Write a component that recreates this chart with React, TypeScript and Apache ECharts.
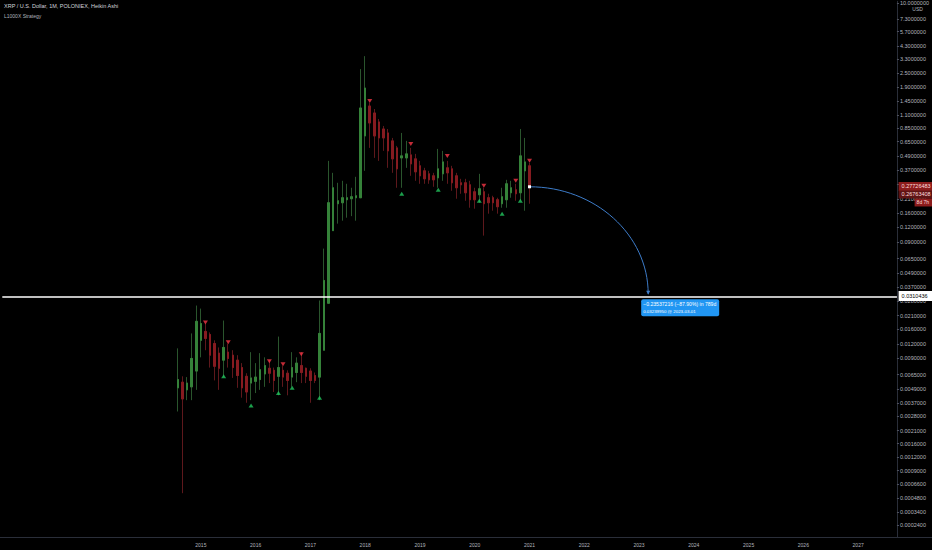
import React, { useEffect, useRef } from "react";
import * as echarts from "echarts";

// ---------- data ----------
const AXIS_FIRST_MONTH = "2011-06";
const AXIS_MONTH_COUNT = 196;
const FIRST_CANDLE_MONTH = "2014-08";

const opens = [
  0.0050, 0.0056, 0.0048, 0.0051, 0.0070,
  0.0129, 0.0154, 0.0145, 0.0121, 0.0100, 0.0087, 0.0102, 0.0096, 0.0087, 0.0075, 0.0063, 0.0055,
  0.0057, 0.0059, 0.0066, 0.0074, 0.0071, 0.0063, 0.0071, 0.0067, 0.0062, 0.0068, 0.0078, 0.0074,
  0.0070, 0.0064, 0.0062, 0.0106, 0.0269, 0.1127, 0.1916, 0.1954, 0.2073, 0.2114, 0.2156, 0.2156,
  0.729, 1.314, 1.145, 0.960, 0.836, 0.773, 0.661, 0.576, 0.473, 0.473, 0.5017, 0.4638,
  0.4043, 0.3664, 0.3454, 0.3321, 0.3193, 0.3454, 0.3887, 0.381, 0.3321, 0.2894, 0.2894, 0.2783,
  0.2425, 0.2287, 0.2425, 0.2156, 0.2156, 0.2073, 0.1916, 0.2073, 0.2378, 0.2523, 0.2378, 0.3664,
  0.4043,
];
const closes = [
  0.0059, 0.0040, 0.0055, 0.0090, 0.0188,
  0.0180, 0.0134, 0.0096, 0.0077, 0.0074, 0.0112, 0.0090, 0.0075, 0.0064, 0.0050, 0.0046, 0.0061,
  0.0062, 0.0072, 0.0078, 0.0067, 0.0058, 0.0075, 0.0062, 0.0058, 0.0075, 0.0082, 0.0068, 0.0063,
  0.0058, 0.0058, 0.0148, 0.0422, 0.1954, 0.2624, 0.2032, 0.2156, 0.2156, 0.2199, 0.2242, 1.264,
  1.872, 0.941, 0.729, 0.701, 0.701, 0.543, 0.4638, 0.381, 0.492, 0.5117, 0.4204, 0.3593,
  0.3321, 0.3131, 0.3070, 0.3070, 0.381, 0.437, 0.3522, 0.2894, 0.2624, 0.2783, 0.2378, 0.2073,
  0.2073, 0.2573, 0.1916, 0.1954, 0.1954, 0.1806, 0.2199, 0.2838, 0.2624, 0.2332, 0.492, 0.437,
  0.2676,
];
const lows = [
  0.0031, 0.00054, 0.0039, 0.0039, 0.0048,
  0.0092, 0.0106, 0.0075, 0.0058, 0.0048, 0.0062, 0.0075, 0.0061, 0.0050, 0.0041, 0.0037, 0.0039,
  0.0045, 0.0048, 0.0051, 0.0055, 0.0046, 0.0043, 0.0051, 0.0043, 0.0051, 0.0056, 0.0055, 0.0055,
  0.0037, 0.0055, 0.0039, 0.0106, 0.0269, 0.1127, 0.1294, 0.1372, 0.1455, 0.150, 0.1372, 0.2156,
  0.3664, 0.576, 0.473, 0.446, 0.543, 0.3887, 0.3522, 0.2624, 0.2624, 0.3887, 0.3321, 0.3011,
  0.2838, 0.2838, 0.2838, 0.2676, 0.2624, 0.3011, 0.2838, 0.2473, 0.2114, 0.2332, 0.2032, 0.1771,
  0.1737, 0.1954, 0.1022, 0.1575, 0.167, 0.1575, 0.1771, 0.1771, 0.2156, 0.2032, 0.2032, 0.167,
  0.1916,
];
const highs = [
  0.0110, 0.0063, 0.0062, 0.0148, 0.0257,
  0.0242, 0.0180, 0.0151, 0.0129, 0.0112, 0.0191, 0.0121, 0.0106, 0.0096, 0.0082, 0.0067, 0.0102,
  0.0082, 0.0100, 0.0092, 0.0087, 0.0075, 0.0139, 0.0078, 0.0071, 0.0102, 0.0092, 0.0102, 0.0075,
  0.0074, 0.0068, 0.0284, 0.0791, 0.446, 0.3522, 0.2894, 0.3011, 0.2838, 0.2624, 0.3256, 2.72,
  3.51, 1.394, 1.239, 1.018, 0.887, 0.836, 0.701, 0.599, 0.773, 0.661, 0.576, 0.5117,
  0.446, 0.3887, 0.3664, 0.3522, 0.5646, 0.543, 0.446, 0.4043, 0.3522, 0.3131, 0.3131, 0.3011,
  0.2624, 0.3454, 0.2624, 0.2332, 0.2242, 0.2156, 0.2624, 0.3070, 0.3011, 0.2838, 0.836, 0.701,
  0.4287,
];

const buyMonths = ["2015-06", "2015-12", "2016-06", "2016-09", "2017-03", "2018-09", "2019-05", "2020-02", "2020-07", "2020-11"];
const buyPrices = [0.0063, 0.0035, 0.0045, 0.0050, 0.0041, 0.2332, 0.2523, 0.2032, 0.1575, 0.2032];
const sellMonths = ["2015-02", "2015-07", "2016-04", "2016-07", "2016-11", "2018-02", "2018-11", "2019-07", "2020-03", "2020-10", "2021-01"];
const sellPrices = [0.0184, 0.0124, 0.0085, 0.0080, 0.0098, 1.45, 0.623, 0.492, 0.2729, 0.3011, 0.446];

// axis ticks; 0.28 sits under the last-price label in the reference, so it gets a tick but no text
const priceTicks = [
  10, 7.3, 5.7, 4.3, 3.3, 2.5, 1.9, 1.45, 1.1, 0.85, 0.65, 0.49, 0.37, 0.28, 0.21, 0.16, 0.12, 0.09,
  0.065, 0.049, 0.037, 0.028, 0.021, 0.016, 0.012, 0.009, 0.0065, 0.0049, 0.0037, 0.0028, 0.0021,
  0.0016, 0.0012, 0.0009, 0.00066, 0.00048, 0.00034, 0.00024,
];
const hiddenTickLabels = [0.28];
const yearLabels = ["2015", "2016", "2017", "2018", "2019", "2020", "2021", "2022", "2023", "2024", "2025", "2026", "2027"];

const VIEW_TOP_PRICE = 10.34;
const VIEW_BOTTOM_PRICE = 0.00017;
const LOG_OFFSET = 0.0001; // TradingView-style log offset

const levelPrice = 0.0310436;
const lastPrice = 0.27726483;
const haClosePrice = 0.26763408;
const countdownText = "8d 7h";
const projStartMonth = "2021-01";
const projStartPrice = 0.26763408;
const projEndMonth = "2023-03";
const projEndPrice = 0.0323995;
const projLine1 = "\u22120.23537216 (\u221287.90%) in 789d";
const projLine2 = "0.03239950 @ 2023-03-01";

const titleText = "XRP / U.S. Dollar, 1M, POLONIEX, Heikin Ashi";
const strategyText = "L1000X Strategy";

// ---------- styles ----------
const FONT = "'Liberation Sans', Arial, sans-serif";
const UP = "#358239";
const DOWN = "#861b20";
const WICK_UP = "#2a552d";
const WICK_DOWN = "#5e181c";
const BUY = "#22c55e";
const SELL = "#f23645";
const AXIS_LINE = "#2a2e39";
const AXIS_TEXT = "#b2b5be";

function buildMonths(first: string, count: number): string[] {
  const [y0, m0] = first.split("-").map(Number);
  const out: string[] = [];
  for (let i = 0; i < count; i++) {
    const k = m0 - 1 + i;
    const y = y0 + Math.floor(k / 12);
    const m = (k % 12) + 1;
    out.push(`${y}-${String(m).padStart(2, "0")}`);
  }
  return out;
}

const T = (p: number) => Math.log10(p + LOG_OFFSET);

export default function App() {
  const ref = useRef<HTMLDivElement>(null);

  useEffect(() => {
    document.body.style.margin = "0";
    document.body.style.background = "#000";
    const el = ref.current!;
    const chart = echarts.init(el, null, { renderer: "svg" });

    const cats = buildMonths(AXIS_FIRST_MONTH, AXIS_MONTH_COUNT);
    const firstIdx = cats.indexOf(FIRST_CANDLE_MONTH);
    const yearSet = new Set(yearLabels.map((y) => `${y}-01`));

    const wickData = opens.map((o, i) => [firstIdx + i, T(o), T(closes[i]), T(lows[i]), T(highs[i])]);
    const bodyData = opens.map((o, i) => [
      firstIdx + i,
      T(o),
      T(closes[i]),
      T(Math.min(o, closes[i])),
      T(Math.max(o, closes[i])),
    ]);
    const buyData = buyMonths.map((m, i) => [cats.indexOf(m), T(buyPrices[i])]);
    const sellData = sellMonths.map((m, i) => [cats.indexOf(m), T(sellPrices[i])]);
    const tickVals = priceTicks.map(T);
    const labelVals = priceTicks.filter((t) => !hiddenTickLabels.includes(t)).map(T);

    chart.setOption({
      animation: false,
      backgroundColor: "#000000",
      grid: { left: 2.3, right: 31.4, top: 0, bottom: 13 },
      xAxis: {
        type: "category",
        data: cats,
        boundaryGap: true,
        axisLine: { show: false },
        axisTick: { show: false },
        splitLine: { show: false },
        axisLabel: {
          interval: (_i: number, v: string) => yearSet.has(v),
          formatter: (v: string) => v.slice(0, 4),
          color: AXIS_TEXT,
          fontSize: 5,
          fontFamily: FONT,
          margin: 5,
        },
      },
      yAxis: {
        type: "value",
        position: "right",
        min: T(VIEW_BOTTOM_PRICE),
        max: T(VIEW_TOP_PRICE),
        scale: true,
        splitLine: { show: false },
        axisLine: { show: true, lineStyle: { color: AXIS_LINE, width: 1 } },
        axisTick: { show: true, customValues: tickVals, length: 2, lineStyle: { color: "#50535e" } },
        axisLabel: {
          customValues: labelVals,
          color: AXIS_TEXT,
          fontSize: 5.5,
          fontFamily: FONT,
          margin: 3,
          formatter: (v: number) => {
            let best = priceTicks[0];
            let d = Infinity;
            for (const t of priceTicks) {
              const dd = Math.abs(T(t) - v);
              if (dd < d) { d = dd; best = t; }
            }
            return best.toFixed(7);
          },
        },
      },
      series: [
        {
          name: "wicks",
          type: "candlestick",
          data: wickData,
          encode: { x: 0, y: [1, 2, 3, 4] },
          barWidth: 2,
          itemStyle: { color: WICK_UP, color0: WICK_DOWN, borderColor: WICK_UP, borderColor0: WICK_DOWN, borderWidth: 1 },
          z: 2,
        },
        {
          name: "bodies",
          type: "candlestick",
          data: bodyData,
          encode: { x: 0, y: [1, 2, 3, 4] },
          barWidth: 2,
          itemStyle: { color: UP, color0: DOWN, borderColor: UP, borderColor0: DOWN, borderWidth: 1 },
          z: 3,
          markLine: {
            silent: true,
            symbol: "none",
            label: { show: false },
            lineStyle: { color: "#ffffff", width: 1.5, type: "solid" },
            data: [{ yAxis: T(levelPrice) }],
          },
        },
        {
          name: "buy",
          type: "scatter",
          data: buyData,
          symbol: "triangle",
          symbolSize: [5, 4],
          itemStyle: { color: BUY },
          z: 4,
        },
        {
          name: "sell",
          type: "scatter",
          data: sellData,
          symbol: "triangle",
          symbolRotate: 180,
          symbolSize: [5, 4],
          itemStyle: { color: SELL },
          z: 4,
        },
      ],
    });

    const px = (m: string, p: number) =>
      chart.convertToPixel({ xAxisIndex: 0, yAxisIndex: 0 }, [cats.indexOf(m), T(p)]) as number[];
    const yOf = (p: number) => (chart.convertToPixel({ yAxisIndex: 0 }, T(p)) as number);

    const W = el.clientWidth;
    const H = el.clientHeight;
    const axisX = W - 31.4;
    const plotBottom = H - 13;

    const [sx, sy] = px(projStartMonth, projStartPrice);
    const [ex, ey] = px(projEndMonth, projEndPrice);
    const k = 0.5523;
    const yLevel = yOf(levelPrice);
    const yLast = yOf(lastPrice);
    const yHa = yOf(haClosePrice);

    const txt = (x: number, y: number, text: string, size: number, fill: string, align = "left", z = 100) => ({
      type: "text",
      x,
      y,
      z,
      style: { text, fill, fontSize: size, fontFamily: FONT, align, verticalAlign: "middle" },
    });

    const label1Y = Math.min(yLast, yHa) + 1.5;
    const label2Y = label1Y + 8;
    const label3Y = label2Y + 8;

    chart.setOption({
      graphic: [
        // bottom time-axis border
        { type: "line", z: 50, shape: { x1: 0, y1: plotBottom + 0.5, x2: W, y2: plotBottom + 0.5 }, style: { stroke: AXIS_LINE, lineWidth: 1 } },
        // titles
        txt(4, 6, titleText, 5.5, "#d1d4dc"),
        txt(4, 16, strategyText, 5, "#b2b5be"),
        txt(axisX + 17, 8.5, "USD", 5, AXIS_TEXT, "center"),
        // level label
        { type: "rect", z: 100, shape: { x: axisX - 2, y: yLevel - 5, width: W - axisX + 2, height: 10 }, style: { fill: "#ffffff" } },
        txt(axisX + 1, yLevel, levelPrice.toFixed(7), 5.5, "#000000"),
        // last price labels
        { type: "rect", z: 100, shape: { x: axisX - 2, y: label1Y - 4.5, width: W - axisX + 2, height: 9 }, style: { fill: "#8c1c1c" } },
        txt(axisX + 1, label1Y, lastPrice.toFixed(8), 5.5, "#ffdede"),
        { type: "rect", z: 100, shape: { x: axisX - 2, y: label2Y - 4, width: W - axisX + 2, height: 8 }, style: { fill: "#5e1414" } },
        txt(axisX + 1, label2Y, haClosePrice.toFixed(8), 5.5, "#ffdede"),
        { type: "rect", z: 100, shape: { x: axisX + 14, y: label3Y - 4, width: W - axisX - 14, height: 8 }, style: { fill: "#8c1c1c" } },
        txt(axisX + 16, label3Y, countdownText, 5, "#ffdede"),
        // projection arc
        {
          type: "bezierCurve",
          z: 60,
          shape: { x1: sx, y1: sy, cpx1: sx + k * (ex - sx), cpy1: sy, cpx2: ex, cpy2: ey - k * (ey - sy), x2: ex, y2: ey },
          style: { stroke: "#3d7cc9", lineWidth: 1, fill: "none" },
        },
        { type: "rect", z: 61, shape: { x: sx - 1.5, y: sy - 1.5, width: 3, height: 3 }, style: { fill: "#ffffff" } },
        {
          type: "polygon",
          z: 61,
          shape: { points: [[ex - 2, ey - 3], [ex + 2, ey - 3], [ex, ey + 1]] },
          style: { fill: "#3d7cc9" },
        },
        // projection tooltip
        { type: "rect", z: 100, shape: { x: ex - 7, y: ey + 5.5, width: 78, height: 17, r: 2 }, style: { fill: "#2196f3" } },
        txt(ex - 5, ey + 10.5, projLine1, 5.1, "#ffffff"),
        txt(ex - 5, ey + 18, projLine2, 4.4, "#ffffff"),
      ],
    });

    return () => chart.dispose();
  }, []);

  return <div ref={ref} style={{ position: "fixed", left: 0, top: 0, width: 932, height: 550, background: "#000" }} />;
}
